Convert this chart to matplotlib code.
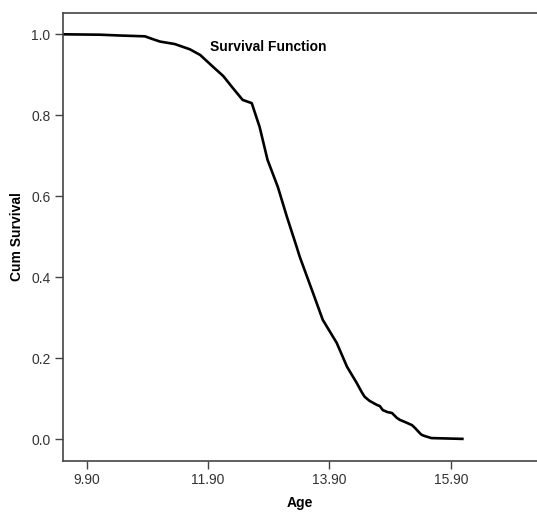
import matplotlib
matplotlib.use("Agg")
import matplotlib.pyplot as plt

# Kaplan-Meier style survival curve
age = [9.51, 10.12, 10.45, 10.86, 10.99, 11.11, 11.35, 11.60, 11.77, 11.98,
       12.15, 12.31, 12.47, 12.62, 12.75, 12.88, 13.05, 13.20, 13.36, 13.41,
       13.63, 13.79, 14.02, 14.19, 14.35, 14.43, 14.48, 14.56, 14.68, 14.73,
       14.78, 14.86, 14.93, 15.01, 15.06, 15.14, 15.26, 15.31, 15.39, 15.42,
       15.47, 15.58, 16.09]
cum_survival = [1.0, 0.999, 0.997, 0.995, 0.988, 0.982, 0.976, 0.963, 0.949, 0.920,
                0.897, 0.867, 0.838, 0.830, 0.771, 0.690, 0.623, 0.549, 0.475, 0.451,
                0.361, 0.295, 0.238, 0.179, 0.139, 0.117, 0.105, 0.095, 0.085, 0.082,
                0.072, 0.067, 0.065, 0.053, 0.048, 0.043, 0.035, 0.028, 0.015, 0.011,
                0.008, 0.003, 0.001]

xticks = [9.90, 11.90, 13.90, 15.90]
yticks = [0.0, 0.2, 0.4, 0.6, 0.8, 1.0]

plt.rcParams['font.family'] = ['Liberation Sans', 'DejaVu Sans']

fig = plt.figure(figsize=(5.37, 5.13), dpi=100)
ax = fig.add_axes([63 / 537, 1 - 461 / 513, 1 - 63 / 537, (461 - 13) / 513])

ax.plot(age, cum_survival, color='black', linewidth=1.9)

ax.set_xlim(9.51, 17.32)
ax.set_ylim(-0.0536, 1.0526)
ax.set_xticks(xticks)
ax.set_xticklabels([f'{t:.2f}' for t in xticks])
ax.set_yticks(yticks)
ax.set_yticklabels([f'{t:.1f}' for t in yticks])

for side in ['left', 'bottom', 'top']:
    ax.spines[side].set_color('#444444')
    ax.spines[side].set_linewidth(1.2)
ax.spines['right'].set_visible(False)

ax.tick_params(axis='both', direction='out', length=6, width=1.0, color='#444444',
               labelsize=10, labelcolor='#333333', pad=3)

ax.set_xlabel('Age', fontsize=10, fontweight='bold', labelpad=6)
ax.set_ylabel('Cum Survival', fontsize=10, fontweight='bold', labelpad=5)

ax.text(11.93, 0.969, 'Survival Function', fontsize=10, fontweight='bold',
        ha='left', va='center')

fig.savefig('out.png', dpi=100)
